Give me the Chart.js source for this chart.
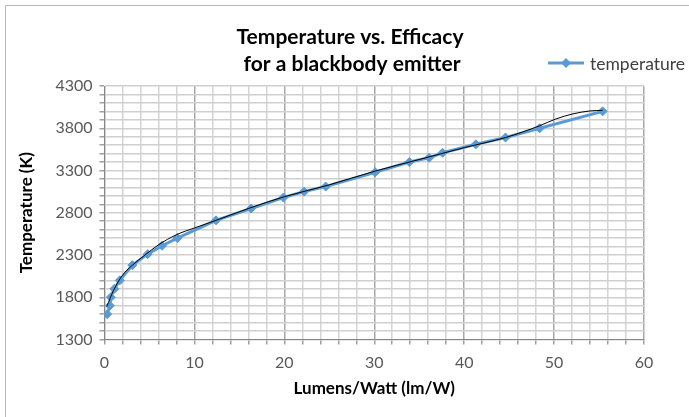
<!DOCTYPE html>
<html>
<head>
<meta charset="utf-8">
<script src="https://cdn.jsdelivr.net/npm/chart.js@4/dist/chart.umd.min.js"></script>
<style>
  html,body{margin:0;padding:0;background:#fff;}
  #wrap{width:689px;height:417px;}
</style>
</head>
<body>
<div id="wrap"><canvas id="myChart" width="689" height="417"></canvas></div>
<script>
// data
const lumensPerWatt = [0.3, 0.6, 0.7, 1.1, 1.7, 3.1, 4.8, 6.4, 8.1, 12.4, 16.3, 19.9, 22.2, 24.6, 30.1, 33.9, 36.1, 37.6, 41.3, 44.6, 48.4, 55.4]
const temperatureK  = [1600, 1700, 1800, 1900, 2000, 2180, 2310, 2410, 2500, 2710, 2850, 2980, 3050, 3110, 3280, 3400, 3450, 3510, 3610, 3690, 3800, 4000]

// thin black fitted curve
const trendLm = [0.25, 1, 2, 3, 4.5, 6, 8, 10, 12.4, 16, 20, 25, 30, 35, 40, 44.6, 48.4, 50.2, 52.1, 54, 55.4]
const trendK  = [1690, 1880, 2060, 2170, 2300, 2420, 2540, 2620, 2710, 2850, 2990, 3130, 3290, 3430, 3570, 3690, 3830, 3910, 3970, 4005, 4012]

const seriesLabel = 'temperature'
const titleLines = ['Temperature vs. Efficacy', 'for a blackbody emitter']
const xTitle = 'Lumens/Watt (lm/W)'
const yTitle = 'Temperature (K)'

const blue = '#5B9BD5'
const fontName = 'Lato, "Liberation Sans", sans-serif'

const toPoints = (xs, ys) => xs.map((x, i) => ({x: x, y: ys[i]}))

//タイトル・凡例・外枠
const decor = {
  id: 'decor',
  beforeDraw(chart) {
    const c = chart.ctx
    c.save()
    c.fillStyle = '#fff'
    c.fillRect(0, 0, chart.width, chart.height)
    c.strokeStyle = '#b8b8b8'
    c.lineWidth = 1
    c.beginPath()
    c.moveTo(5.5, chart.height)
    c.lineTo(5.5, 5.5)
    c.lineTo(chart.width, 5.5)
    c.stroke()
    c.restore()
  },
  afterDraw(chart) {
    const c = chart.ctx
    c.save()
    c.fillStyle = '#000'
    c.font = 'bold 21px ' + fontName
    c.textAlign = 'center'
    c.textBaseline = 'alphabetic'
    c.fillText(titleLines[0], 350, 44)
    c.fillText(titleLines[1], 352, 71)

    // legend
    const ly = 63
    c.strokeStyle = blue
    c.lineWidth = 3
    c.beginPath()
    c.moveTo(548, ly)
    c.lineTo(584, ly)
    c.stroke()
    c.fillStyle = blue
    c.beginPath()
    c.moveTo(566, ly - 5)
    c.lineTo(571, ly)
    c.lineTo(566, ly + 5)
    c.lineTo(561, ly)
    c.closePath()
    c.fill()
    c.fillStyle = '#404040'
    c.font = '17.5px ' + fontName
    c.textAlign = 'left'
    c.textBaseline = 'middle'
    c.fillText(seriesLabel, 590, ly + 1)
    c.restore()
  }
}

const ctx = document.getElementById('myChart')
new Chart(ctx, {
  type: 'scatter',
  data: {
    datasets: [
      {
        label: 'trend',
        data: toPoints(trendLm, trendK),
        showLine: true,
        borderColor: '#000',
        borderWidth: 1,
        pointRadius: 0,
        cubicInterpolationMode: 'monotone',
        fill: false
      },
      {
        label: seriesLabel,
        data: toPoints(lumensPerWatt, temperatureK),
        showLine: true,
        borderColor: blue,
        borderWidth: 3,
        pointStyle: 'rectRot',
        pointRadius: 4.5,
        pointBackgroundColor: blue,
        pointBorderColor: blue,
        pointBorderWidth: 1,
        tension: 0,
        fill: false
      }
    ]
  },
  options: {
    responsive: false,
    animation: false,
    devicePixelRatio: 1,
    layout: {padding: {left: 12, right: 45, top: 86, bottom: 16}},
    plugins: {
      legend: {display: false},
      title: {display: false},
      tooltip: {enabled: false}
    },
    scales: {
      x: {
        type: 'linear',
        min: 0,
        max: 60,
        afterFit: (scale) => { scale.height = 61.5 },
        ticks: {
          stepSize: 2,
          autoSkip: false,
          maxRotation: 0,
          padding: 9,
          color: '#595959',
          font: {family: fontName, size: 16},
          callback: (v) => (v % 10 === 0 ? v : '')
        },
        grid: {
          color: (c) => (c.tick && c.tick.value % 10 === 0 ? '#a8a8a8' : '#d4d4d4'),
          lineWidth: 1.5,
          tickLength: 5,
          tickColor: '#a0a0a0'
        },
        border: {color: '#868686', width: 1},
        title: {
          display: true,
          text: xTitle,
          color: '#000',
          font: {family: fontName, size: 17, weight: 'bold'},
          padding: {top: 0, bottom: 2}
        }
      },
      y: {
        min: 1300,
        max: 4300,
        afterFit: (scale) => { scale.width = 92.5 },
        ticks: {
          stepSize: 100,
          autoSkip: false,
          padding: 7,
          color: '#595959',
          font: {family: fontName, size: 16},
          callback: (v) => ((v - 1300) % 500 === 0 ? v : '')
        },
        grid: {
          color: '#cfcfcf',
          lineWidth: 1.5,
          tickLength: 5,
          tickColor: '#a0a0a0'
        },
        border: {color: '#868686', width: 1},
        title: {
          display: true,
          text: yTitle,
          color: '#000',
          font: {family: fontName, size: 17, weight: 'bold'},
          padding: {top: 4, bottom: 0}
        }
      }
    }
  },
  plugins: [decor]
})
</script>
</body>
</html>
